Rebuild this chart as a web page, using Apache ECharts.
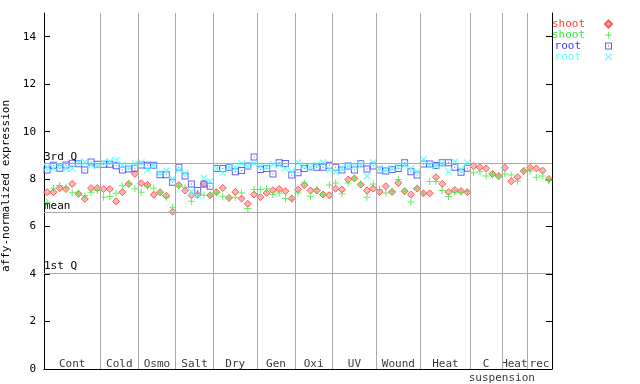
<!DOCTYPE html>
<html><head><meta charset="utf-8">
<script src="https://cdn.jsdelivr.net/npm/echarts@6/dist/echarts.min.js"></script>
<style>html,body{margin:0;padding:0;background:#fff}#c{width:640px;height:384px}</style>
</head><body><div id="c"></div>
<script>
// ---- data ----
const groupNames = ['Cont','Cold','Osmo','Salt','Dry','Gen','Oxi','UV','Wound','Heat','C','Heat','rec'];
const groupSizes = [9,6,6,6,7,6,6,7,7,8,5,4,4];
const refLines = [
  {name:'3rd Q', value:8.67},
  {name:'mean', value:6.6},
  {name:'1st Q', value:4.05}
];
const yTicks = [0,2,4,6,8,10,12,14];
const shootRed = [7.45,7.45,7.62,7.58,7.80,7.38,7.17,7.62,7.62,
  7.58,7.58,7.06,7.45,7.80,8.22,
  7.83,7.76,7.34,7.45,7.30,6.63,
  7.75,7.52,7.32,7.35,7.80,7.32,
  7.45,7.63,7.21,7.46,7.18,6.96,7.35,
  7.24,7.42,7.53,7.58,7.49,7.18,
  7.56,7.75,7.52,7.52,7.35,7.32,
  7.60,7.56,7.98,8.03,7.77,7.52,7.60,
  7.46,7.70,7.46,7.84,7.49,7.35,7.60,
  7.40,7.40,8.08,7.80,7.45,7.54,7.50,7.45,
  8.55,8.50,8.45,8.22,8.13,
  8.48,7.91,8.08,8.34,
  8.48,8.45,8.36,8.01];
const shootGreen = [7.03,7.62,7.73,7.66,7.45,7.41,7.30,7.45,7.52,
  7.24,7.27,7.41,7.72,7.83,7.60,
  7.45,7.70,7.62,7.45,7.24,6.82,
  7.70,7.66,7.07,7.31,7.32,7.32,
  7.45,7.28,7.21,7.24,7.42,6.76,7.56,
  7.56,7.60,7.35,7.42,7.18,7.14,
  7.42,7.84,7.28,7.56,7.35,7.75,
  7.84,7.38,7.84,8.05,7.80,7.24,7.80,
  7.56,7.42,7.49,7.98,7.49,7.04,7.63,
  7.40,7.90,7.90,7.52,7.27,7.45,7.45,7.48,
  8.27,8.31,8.13,8.22,8.13,
  8.22,8.17,7.91,8.34,
  8.34,8.08,8.13,7.94];
const rootBlue = [8.39,8.58,8.46,8.60,8.67,8.65,8.39,8.72,8.63,
  8.63,8.63,8.56,8.39,8.43,8.46,
  8.60,8.58,8.58,8.18,8.18,7.87,
  8.50,8.13,7.80,7.52,7.80,7.70,
  8.45,8.45,8.50,8.31,8.36,8.55,8.93,
  8.41,8.45,8.22,8.69,8.66,8.17,
  8.27,8.45,8.52,8.50,8.50,8.59,
  8.50,8.38,8.55,8.38,8.65,8.43,8.55,
  8.38,8.34,8.41,8.45,8.69,8.31,8.17,
  8.64,8.64,8.57,8.69,8.69,8.50,8.29,8.46];
const rootCyan = [8.50,8.45,8.55,8.45,8.45,8.70,8.72,8.60,8.55,
  8.70,8.75,8.80,8.60,8.50,8.65,
  8.70,8.40,8.55,8.25,8.35,8.00,
  8.40,8.25,7.48,7.33,8.05,7.90,
  8.45,8.27,8.50,8.48,8.66,8.55,8.66,
  8.55,8.50,8.62,8.60,8.45,8.34,
  8.69,8.55,8.50,8.60,8.69,8.41,
  8.31,8.45,8.55,8.55,8.60,8.13,8.69,
  8.45,8.40,8.45,8.50,8.60,8.45,8.31,
  8.83,8.60,8.55,8.65,8.31,8.73,8.40,8.69];

// ---- derived ----
const nSlots = groupSizes.reduce((a,b)=>a+b,0);
const bounds = []; const centers = [];
let acc = 0;
groupSizes.forEach((s,i)=>{ centers.push(acc + s/2); acc += s; if (i < groupSizes.length-1) bounds.push(acc); });
const toPts = arr => arr.map((v,i)=>[i+0.5, v]);

const FONT = 'DejaVu Sans Mono';
const C_RED='#ff3838', C_GREEN='#38ee38', C_BLUE='#3838ff', C_CYAN='#55ffff';
const SYM_DIAMOND='path://M3.5,0L7,3.5L3.5,7L0,3.5Z';
const SYM_PLUS='path://M3,0H4V3H7V4H4V7H3V4H0V3H3Z';
const SYM_SQUARE='path://M0,0H7V7H0Z M1,1V6H6V1Z M3,3H4V4H3Z';
const SYM_X='path://M0,0H1L3.5,2.5L6,0H7V1L4.5,3.5L7,6V7H6L3.5,4.5L1,7H0V6L2.5,3.5L0,1Z';

const labelData = groupNames.map((n,i)=>({value:[centers[i], 0.21], name:n}));
labelData.push({value:[bounds[10], -0.38], name:'suspension'});

const chart = echarts.init(document.getElementById('c'), null, {renderer:'canvas'});
const dispName = {s1:'shoot', s2:'shoot', r1:'root', r2:'root'};
chart.setOption({
  animation:false,
  backgroundColor:'#fff',
  textStyle:{fontFamily:FONT},
  grid:{left:44, right:88, top:13, bottom:15, outerBoundsMode:'none', containLabel:false},
  legend:{
    orient:'vertical', right:27, top:18.5, padding:0, itemGap:0,
    itemWidth:37, itemHeight:7, align:'right', selectedMode:false, symbolKeepAspect:true,
    formatter: n => dispName[n],
    textStyle:{fontFamily:FONT, fontSize:11, lineHeight:10.6},
    data:[
      {name:'s1', textStyle:{color:C_RED}},
      {name:'s2', textStyle:{color:C_GREEN}},
      {name:'r1', textStyle:{color:C_BLUE, padding:[0,4,0,0]}},
      {name:'r2', textStyle:{color:C_CYAN, padding:[0,4,0,0]}}
    ]
  },
  xAxis:{type:'value', min:0, max:nSlots, axisLine:{show:true, onZero:false, lineStyle:{color:'#000', width:1}},
    axisTick:{show:false}, axisLabel:{show:false}, splitLine:{show:false}},
  yAxis:[
    {type:'value', min:0, max:15, interval:1,
      name:'affy-normalized expression', nameLocation:'middle', nameGap:18,
      nameTextStyle:{fontFamily:FONT, fontSize:11, color:'#000', padding:[0,0,0,10]},
      axisLine:{show:true, lineStyle:{color:'#000', width:1}},
      axisTick:{show:true, inside:true, length:6, customValues:yTicks, lineStyle:{color:'#000'}},
      axisLabel:{customValues:yTicks, margin:8, color:'#000', fontFamily:FONT, fontSize:11},
      splitLine:{show:false}},
    {type:'value', min:0, max:15, position:'right',
      axisLine:{show:true, lineStyle:{color:'#000', width:1}},
      axisTick:{show:true, inside:true, length:6, customValues:yTicks, lineStyle:{color:'#000'}},
      axisLabel:{show:false}, splitLine:{show:false}}
  ],
  series:[
    {type:'scatter', name:'groups', symbolSize:0, clip:false, silent:true, z:1,
      data:labelData,
      label:{show:true, position:'inside', formatter:p=>p.name, color:'#000', fontFamily:FONT, fontSize:11},
      markLine:{silent:true, symbol:['none','none'], animation:false,
        lineStyle:{color:'#aaaaaa', width:1, type:'solid'},
        data: bounds.map(b=>({xAxis:b, label:{show:false}})).concat(
          refLines.map(r=>({yAxis:r.value, name:r.name,
            label:{show:true, position:'insideStartTop', formatter:r.name, distance:[0,1],
              color:'#000', fontFamily:FONT, fontSize:11}})))
      }},
    {type:'scatter', name:'s1', data:toPts(shootRed), symbol:SYM_DIAMOND, symbolSize:7,
      itemStyle:{color:'#ffa0a0', borderColor:C_RED, borderWidth:1}, z:3},
    {type:'scatter', name:'s2', data:toPts(shootGreen), symbol:SYM_PLUS, symbolSize:7, itemStyle:{color:C_GREEN}, z:3},
    {type:'scatter', name:'r1', data:toPts(rootBlue), symbol:SYM_SQUARE, symbolSize:7, itemStyle:{color:C_BLUE}, z:3},
    {type:'scatter', name:'r2', data:toPts(rootCyan), symbol:SYM_X, symbolSize:7, itemStyle:{color:C_CYAN}, z:3}
  ]
});
</script></body></html>
